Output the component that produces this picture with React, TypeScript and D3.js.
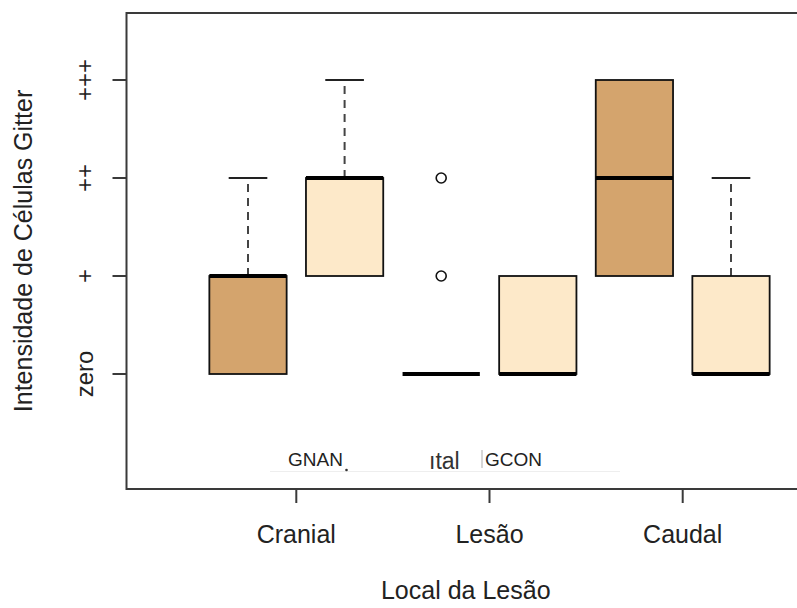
import React from "react";
import { scaleLinear } from "d3";

const width = 797;
const height = 608;

// categories on the x axis, groups inside each category
const categories = ["Cranial", "Lesão", "Caudal"];
const groups = ["GNAN", "GCON"];
const levels = ["zero", "+", "++", "+++"];

// box stats, one entry per box (Cranial GNAN, Cranial GCON, Lesão GNAN, ...)
const whiskerLow = [0, 1, 0, 0, 1, 0];
const q1 = [0, 1, 0, 0, 1, 0];
const medians = [1, 2, 0, 0, 2, 0];
const q3 = [1, 2, 0, 1, 3, 1];
const whiskerHigh = [2, 3, 0, 1, 3, 2];
const outliers = [[], [], [1, 2], [], [], []];

const groupColors = ["#D4A46D", "#FDE9C9"];

// plot region runs a little past the right edge of the picture
const frame = { left: 126.5, top: 13, right: 805, bottom: 489 };
const boxWidth = 0.8;
const font = "'Liberation Sans', Arial, sans-serif";

const App = () => {
  const xScale = scaleLinear().domain([1, 6]).range([248, 731]);
  const yScale = scaleLinear().domain([0, 3]).range([374, 80]);
  const unit = xScale(2) - xScale(1);
  const boxes = q1.map((_, i) => ({
    pos: i + 1,
    fill: groupColors[i % groups.length],
    lo: whiskerLow[i],
    q1: q1[i],
    med: medians[i],
    q3: q3[i],
    hi: whiskerHigh[i],
    out: outliers[i],
  }));

  return (
    <svg
      width={width}
      height={height}
      style={{ position: "absolute", left: 0, top: 0, background: "#fff" }}
      fontFamily={font}
    >
      {/* frame */}
      <path
        d={`M${frame.right},${frame.top}H${frame.left}V${frame.bottom}H${frame.right}`}
        fill="none"
        stroke="#3a3a3a"
        strokeWidth={2}
      />

      {/* y axis */}
      {levels.map((lab, i) => (
        <g key={lab}>
          <line
            x1={frame.left - 14}
            x2={frame.left}
            y1={yScale(i)}
            y2={yScale(i)}
            stroke="#3a3a3a"
            strokeWidth={2}
          />
          <text
            transform={`translate(93,${yScale(i)}) rotate(-90)`}
            textAnchor="middle"
            fontSize={24}
            fill="#222"
          >
            {lab}
          </text>
        </g>
      ))}
      <text
        transform={`translate(32,${(frame.top + frame.bottom) / 2}) rotate(-90)`}
        textAnchor="middle"
        fontSize={25}
        fill="#222"
      >
        Intensidade de Células Gitter
      </text>

      {/* x axis */}
      {categories.map((c, i) => {
        const x = xScale(i * 2 + 1.5);
        return (
          <g key={c}>
            <line
              x1={x}
              x2={x}
              y1={frame.bottom}
              y2={frame.bottom + 14}
              stroke="#3a3a3a"
              strokeWidth={2}
            />
            <text x={x} y={543} textAnchor="middle" fontSize={25} fill="#222">
              {c}
            </text>
          </g>
        );
      })}
      <text
        x={(frame.left + frame.right) / 2}
        y={599}
        textAnchor="middle"
        fontSize={25}
        fill="#222"
      >
        Local da Lesão
      </text>

      {/* boxes */}
      {boxes.map((b) => {
        const cx = xScale(b.pos);
        const half = (boxWidth * unit) / 2;
        const cap = half / 2;
        return (
          <g key={b.pos}>
            {b.hi > b.q3 && (
              <>
                <line
                  x1={cx}
                  x2={cx}
                  y1={yScale(b.q3)}
                  y2={yScale(b.hi)}
                  stroke="#444"
                  strokeWidth={2}
                  strokeDasharray="8,6"
                />
                <line
                  x1={cx - cap}
                  x2={cx + cap}
                  y1={yScale(b.hi)}
                  y2={yScale(b.hi)}
                  stroke="#222"
                  strokeWidth={1.8}
                />
              </>
            )}
            {b.lo < b.q1 && (
              <>
                <line
                  x1={cx}
                  x2={cx}
                  y1={yScale(b.q1)}
                  y2={yScale(b.lo)}
                  stroke="#444"
                  strokeWidth={2}
                  strokeDasharray="8,6"
                />
                <line
                  x1={cx - cap}
                  x2={cx + cap}
                  y1={yScale(b.lo)}
                  y2={yScale(b.lo)}
                  stroke="#222"
                  strokeWidth={1.8}
                />
              </>
            )}
            {b.q3 > b.q1 && (
              <rect
                x={cx - half}
                y={yScale(b.q3)}
                width={half * 2}
                height={yScale(b.q1) - yScale(b.q3)}
                fill={b.fill}
                stroke="#111"
                strokeWidth={1.8}
              />
            )}
            <line
              x1={cx - half}
              x2={cx + half}
              y1={yScale(b.med)}
              y2={yScale(b.med)}
              stroke="#000"
              strokeWidth={4}
            />
            {b.out.map((o, j) => (
              <circle
                key={j}
                cx={cx}
                cy={yScale(o)}
                r={5}
                fill="none"
                stroke="#111"
                strokeWidth={1.6}
              />
            ))}
          </g>
        );
      })}

      {/* partial legend */}
      <rect x={267} y={446} width={355} height={26} fill="#fff" />
      <line x1={270} x2={620} y1={471.5} y2={471.5} stroke="#eee" strokeWidth={1} />
      <text x={288} y={466} fontSize={19} fill="#222">
        {groups[0]}
      </text>
      <circle cx={346.5} cy={470} r={1.3} fill="#333" />
      <text x={429} y={469} fontSize={23} fill="#333">
        ıtal
      </text>
      <line x1={482} x2={482} y1={450} y2={468} stroke="#bbb" strokeWidth={1.2} />
      <text x={485} y={466} fontSize={19} fill="#222">
        {groups[1]}
      </text>
    </svg>
  );
};

export default App;
